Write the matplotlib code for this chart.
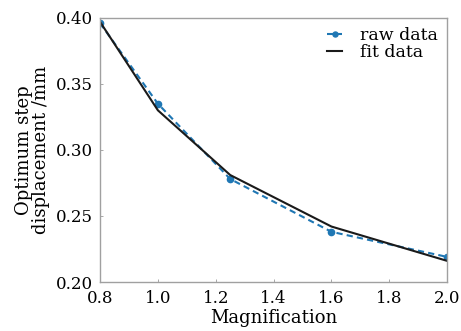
import matplotlib
matplotlib.use("Agg")
import matplotlib.pyplot as plt

magnification = [0.8, 1.0, 1.25, 1.6, 2.0]
raw_data = [0.396, 0.335, 0.278, 0.238, 0.219]
fit_data = [0.397, 0.330, 0.281, 0.242, 0.216]
xticks = [0.8, 1.0, 1.2, 1.4, 1.6, 1.8, 2.0]
yticks = [0.20, 0.25, 0.30, 0.35, 0.40]

plt.rcParams['font.family'] = ['DejaVu Serif']
plt.rcParams['mathtext.fontset'] = 'dejavuserif'

fig = plt.figure(figsize=(4.61, 3.31), dpi=100)
ax = fig.add_axes([0.217, 0.148, 0.753, 0.798])

ax.plot(magnification, raw_data, color='#1f77b4', marker='o', markersize=4.5,
        linewidth=1.5, dashes=(3, 2), label='raw data')
ax.plot(magnification, fit_data, '-', color='#1a1a1a', linewidth=1.5, label='fit data')

ax.set_xlim(0.8, 2.0)
ax.set_ylim(0.20, 0.40)
ax.set_xticks(xticks)
ax.set_xticklabels([f"{v:.1f}" for v in xticks])
ax.set_yticks(yticks)
ax.set_yticklabels([f"{v:.2f}" for v in yticks])
ax.tick_params(direction='in', length=2.5, width=0.6, color='#999999', labelsize=12)
ax.tick_params(axis='x', pad=6)
ax.tick_params(axis='y', pad=5)
for s in ax.spines.values():
    s.set_color('#a0a0a0')
    s.set_linewidth(1.0)

ax.set_xlabel('Magnification', fontsize=13, labelpad=1)
ax.set_ylabel('Optimum step\ndisplacement /mm', fontsize=13, linespacing=0.95, labelpad=4)

leg = ax.legend(loc='upper right', frameon=False, fontsize=12.5, handlelength=0.9,
                handletextpad=1.0, labelspacing=0.0, borderaxespad=0.15, markerscale=0.8)

fig.savefig('out.png', dpi=100)
